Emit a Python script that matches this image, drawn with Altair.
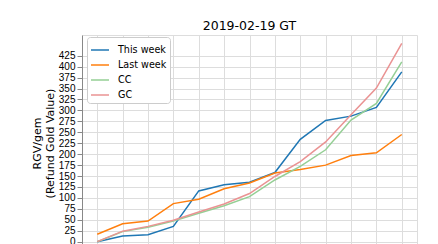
import altair as alt
import pandas as pd

series_names = ["This week", "Last week", "CC", "GC"]
x_idx = list(range(13))
this_week = [0, 13, 16, 35, 116, 130, 136, 158, 234, 277, 287, 307, 388]
last_week = [17, 41, 47, 87, 97, 121, 134, 157, 165, 175, 197, 203, 245]
cc = [0, 23, 33, 47, 65, 82, 103, 141, 172, 210, 278, 316, 411]
gc = [0, 24, 35, 49, 68, 86, 110, 149, 183, 228, 290, 351, 453]
y_ticks = list(range(0, 450, 25))
colors = ["#1f77b4", "#ff7f0e", "#95cf95", "#ea9393"]
widths = [1.5, 1.5, 1.2, 1.2]

rows = []
for k, (name, vals) in enumerate(zip(series_names, [this_week, last_week, cc, gc])):
    for i, v in enumerate(vals):
        rows.append({"idx": x_idx[i], "value": v, "series": name, "k": k})
df = pd.DataFrame(rows)

FONT = "DejaVu Sans"
W, H = 335, 209

chart = alt.Chart(df).mark_line().encode(
    x=alt.X("idx:Q",
            scale=alt.Scale(domain=[-0.6, 12.6], nice=False, zero=False),
            axis=alt.Axis(values=x_idx, labels=False, title=None, grid=True)),
    y=alt.Y("value:Q",
            scale=alt.Scale(domain=[-5.3, 472.4], nice=False, zero=False),
            axis=alt.Axis(values=y_ticks, grid=True,
                          title=["RGV/gem", "(Refund Gold Value)"],
                          titleX=-45, titleY=108, titleAngle=-90,
                          titleAlign="center", titleBaseline="middle",
                          titleLineHeight=13, titleFontWeight="normal",
                          titleFont=FONT, titleFontSize=11)),
    color=alt.Color("series:N", sort=series_names,
                    scale=alt.Scale(domain=series_names, range=colors),
                    legend=alt.Legend(title=None, orient="none", legendX=5, legendY=2,
                                      symbolType="stroke", symbolSize=324,
                                      symbolStrokeWidth=1.5, labelFontSize=9.6,
                                      labelFont=FONT, labelColor="black",
                                      labelOffset=8, rowPadding=-3, padding=3,
                                      fillColor="white", strokeColor="#cccccc",
                                      cornerRadius=3)),
    strokeWidth=alt.StrokeWidth("series:N", scale=alt.Scale(domain=series_names, range=widths),
                                legend=None),
    order=alt.Order("k:Q"),
).properties(
    width=W, height=H,
    title=alt.TitleParams("2019-02-19 GT", fontSize=12.5, font=FONT, fontWeight="normal",
                          color="black", anchor="middle", baseline="alphabetic", offset=6,
                          dy=13),
    autosize=alt.AutoSizeParams(type="none"),
    padding={"left": 82, "top": 35, "right": 21, "bottom": 0},
).configure_view(
    stroke="black", strokeWidth=1
).configure_axis(
    domainColor="black", tickColor="black", tickSize=3.5,
    labelFont=FONT, labelFontSize=10.5, labelColor="black", labelPadding=3,
    titleFont=FONT, titleFontSize=10.5, titleColor="black", titleFontWeight="normal",
    gridColor="#c4c4c4", gridWidth=0.8
).configure(background="white")

chart.save("out.html", embed_options={"renderer": "svg", "actions": False})
